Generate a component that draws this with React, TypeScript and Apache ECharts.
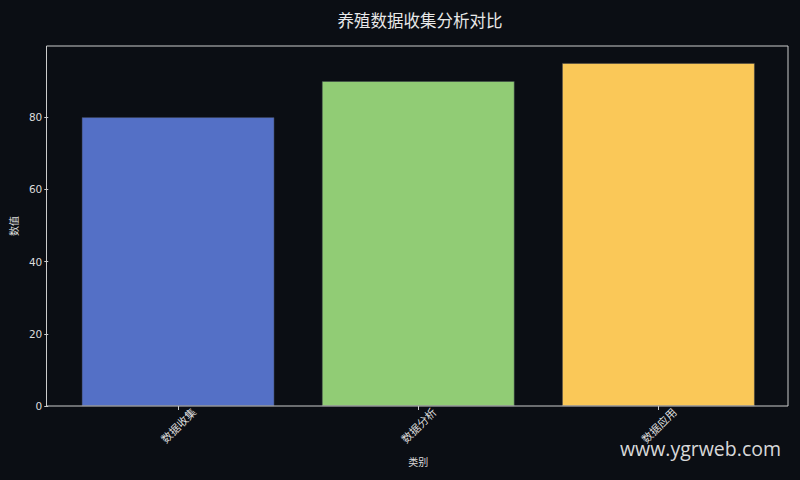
import React, { useEffect, useRef } from "react";
import * as echarts from "echarts";

const categories = ["数据收集", "数据分析", "数据应用"];
const values = [80, 90, 95];
const barColors = ["#5470c6", "#91cc75", "#fac858"];
const yTicks = [0, 20, 40, 60, 80];

const App: React.FC = () => {
  const chartRef = useRef<HTMLDivElement>(null);

  useEffect(() => {
    document.body.style.margin = "0";
    if (!chartRef.current) return;
    const chart = echarts.init(chartRef.current, undefined, { renderer: "svg" });

    const cjk = "'Noto Sans CJK SC', 'DejaVu Sans', sans-serif";
    const textColor = "#dcdcdc";

    const options = {
      animation: false,
      backgroundColor: "#0b0e14",
      title: {
        text: "养殖数据收集分析对比",
        left: 415,
        top: 7,
        textAlign: "center",
        textStyle: { color: "#e8e8e8", fontSize: 16.5, fontWeight: "normal", fontFamily: cjk },
      },
      grid: { left: 56.7, right: 21.5, top: 46, bottom: 74 },
      xAxis: {
        type: "category",
        data: categories,
        name: "类别",
        nameLocation: "middle",
        nameGap: 50,
        nameTextStyle: { color: textColor, fontSize: 10, fontFamily: cjk },
        axisLine: { show: false },
        axisTick: { show: true, alignWithLabel: true, length: 4, lineStyle: { color: "#cccccc" } },
        axisLabel: {
          rotate: 45,
          align: "center",
          verticalAlign: "middle",
          color: textColor,
          fontSize: 11,
          fontFamily: cjk,
          margin: 19,
        },
      },
      yAxis: {
        type: "value",
        min: 0,
        max: 99.75,
        offset: 9.7,
        name: "数值",
        nameLocation: "middle",
        nameGap: 28,
        nameTextStyle: { color: textColor, fontSize: 10, fontFamily: cjk },
        axisLine: { show: false },
        axisTick: { show: true, length: 4, lineStyle: { color: "#cccccc" }, customValues: yTicks },
        splitLine: { show: false },
        axisLabel: {
          color: textColor,
          fontSize: 10.5,
          fontFamily: "'DejaVu Sans', sans-serif",
          margin: 6,
          customValues: yTicks,
        },
      },
      graphic: [
        {
          type: "rect",
          shape: { x: 46.5, y: 46, width: 741.5, height: 360 },
          style: { fill: "none", stroke: "#cccccc", lineWidth: 1 },
          silent: true,
          z: 10,
        },
        {
          type: "text",
          right: 19,
          bottom: 22,
          style: {
            text: "www.ygrweb.com",
            fill: "rgba(255,255,255,0.85)",
            font: "19.5px 'Open Sans', 'Noto Sans', sans-serif",
          },
          z: 20,
        },
      ],
      series: [
        {
          type: "bar",
          barWidth: 192.5,
          data: values.map((v, i) => ({
            value: v,
            itemStyle: { color: barColors[i], borderColor: "#3a3f4a", borderWidth: 0.5 },
          })),
        },
      ],
    };

    chart.setOption(options);
    return () => {
      chart.dispose();
    };
  }, []);

  return <div ref={chartRef} style={{ width: "800px", height: "480px" }} />;
};

export default App;
